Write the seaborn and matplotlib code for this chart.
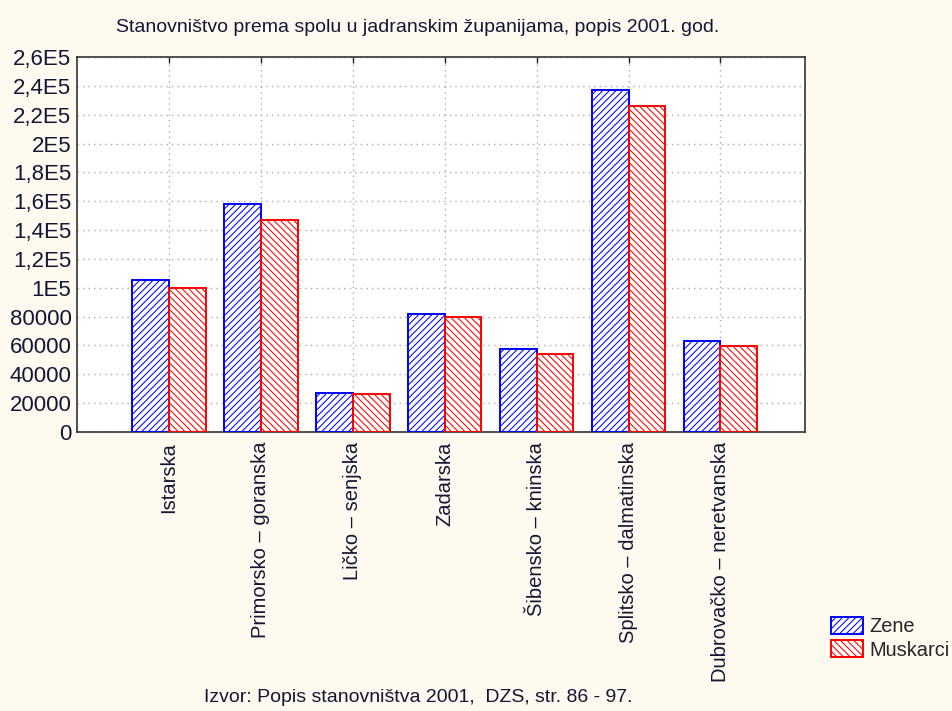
import matplotlib
matplotlib.use("Agg")
import matplotlib.pyplot as plt
import seaborn as sns
import pandas as pd

zupanije = ["Istarska", "Primorsko – goranska", "Ličko – senjska", "Zadarska",
            "Šibensko – kninska", "Splitsko – dalmatinska", "Dubrovačko – neretvanska"]
zene = [105700, 158200, 27200, 82000, 57800, 237400, 63200]
muskarci = [100000, 147200, 26400, 79800, 54300, 226200, 59700]
serije = ["Zene", "Muskarci"]
ytick_vals = [0, 20000, 40000, 60000, 80000, 100000, 120000, 140000, 160000,
              180000, 200000, 220000, 240000, 260000]
ytick_labels = ["0", "20000", "40000", "60000", "80000", "1E5", "1,2E5", "1,4E5",
                "1,6E5", "1,8E5", "2E5", "2,2E5", "2,4E5", "2,6E5"]
naslov = "Stanovništvo prema spolu u jadranskim županijama, popis 2001. god."
izvor = "Izvor: Popis stanovništva 2001,  DZS, str. 86 - 97."

df = pd.DataFrame({
    "zupanija": zupanije * 2,
    "stanovnici": zene + muskarci,
    "spol": [serije[0]] * len(zupanije) + [serije[1]] * len(zupanije),
})

sns.set_style("white")
plt.rcParams["font.family"] = ["Liberation Sans", "DejaVu Sans"]
plt.rcParams["hatch.linewidth"] = 0.75

txtcol = "#151535"
fig = plt.figure(figsize=(9.53, 7.11), dpi=100, facecolor="#FFFAF0")
ax = fig.add_axes([0.0808, 0.3924, 0.7639, 0.5274])
ax.set_facecolor("white")

sns.barplot(data=df, x="zupanija", y="stanovnici", hue="spol",
            palette=["white", "white"], width=0.8, ax=ax, legend=False,
            saturation=1, zorder=3)

styles = [("blue", "/////"), ("red", "\\\\\\\\\\")]
for cont, (col, h) in zip(ax.containers, styles):
    for p in cont:
        p.set_edgecolor(col)
        p.set_hatch(h)
        p.set_linewidth(1.4)
        p.set_facecolor("white")

ax.set_xlim(-1, 6.92)
ax.set_ylim(0, 260000)
ax.set_yticks(ytick_vals)
ax.set_yticklabels(ytick_labels)
ax.set_xticks(range(len(zupanije)))
ax.set_xticklabels(zupanije, rotation=90, ha="center", va="top")
ax.set_xlabel("")
ax.set_ylabel("")
ax.grid(True, linestyle=(0, (1, 3)), color="#aaaaaa", linewidth=1, zorder=0)
ax.set_axisbelow(True)
ax.tick_params(axis="both", direction="in", length=4, width=1,
               labelcolor=txtcol, top=True, right=False)
ax.tick_params(axis="y", labelsize=16, pad=4)
ax.tick_params(axis="x", labelsize=14.5, pad=7)
for s in ax.spines.values():
    s.set_color("#333333")
    s.set_linewidth(1.2)

fig.text(418 / 953, 1 - 27 / 711, naslov, ha="center", va="center", fontsize=14,
         color=txtcol)
fig.text(418 / 953, 1 - 697 / 711, izvor, ha="center", va="center", fontsize=14,
         color=txtcol)

handles = [ax.containers[0][0], ax.containers[1][0]]
fig.legend(handles, serije, loc="center left", bbox_to_anchor=(831 / 953, 1 - 638 / 711),
           frameon=False, fontsize=14.4, handlelength=1.6, handleheight=0.95,
           handletextpad=0.3, labelspacing=0.2, borderaxespad=0, borderpad=0)

fig.savefig("out.png", dpi=100, facecolor=fig.get_facecolor())
